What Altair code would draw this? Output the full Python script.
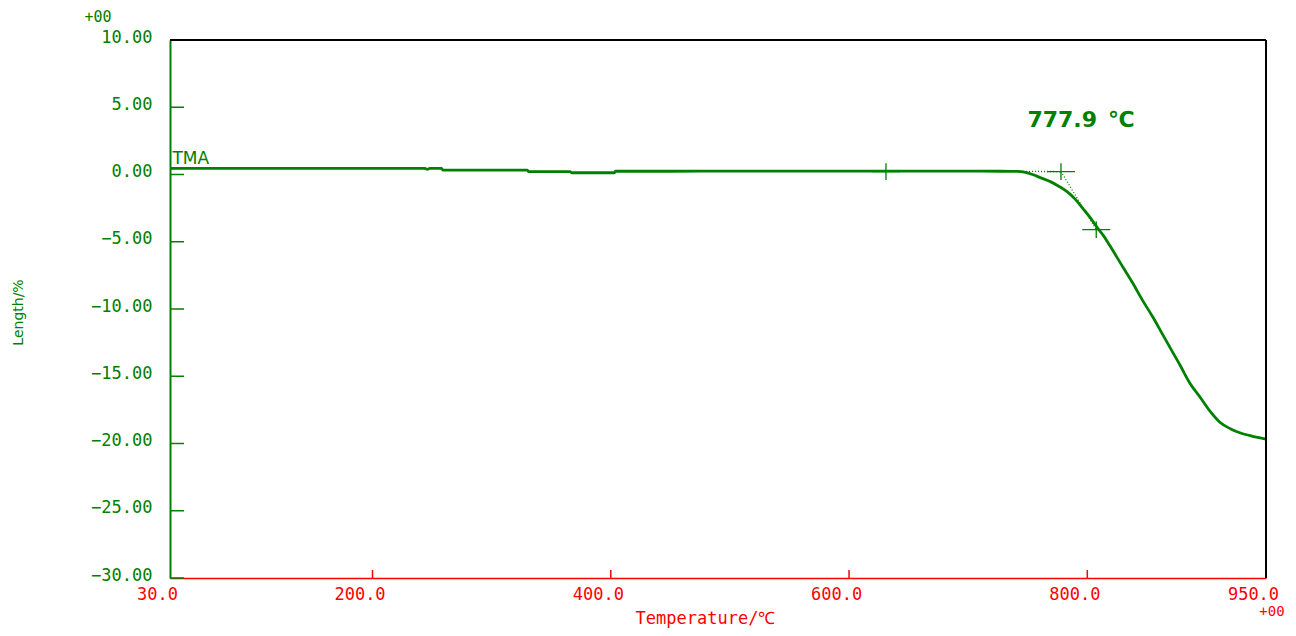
import altair as alt
import pandas as pd

# ---- data ----
temps = [30, 60, 100, 150, 200, 244, 246, 248, 258, 259, 300, 330, 331, 366, 367,
         403, 404, 450, 500, 550, 600, 650, 700, 727, 741, 748, 754, 761, 769, 776, 783,
         790, 796, 802, 808, 814, 819, 830, 838, 846, 855, 862, 869, 878, 886, 895,
         903, 911, 920, 928, 938, 949, 950]
lengths = [0.45, 0.45, 0.45, 0.45, 0.45, 0.45, 0.38, 0.45, 0.45, 0.33, 0.33, 0.33, 0.21, 0.21, 0.13,
           0.13, 0.24, 0.24, 0.25, 0.25, 0.25, 0.25, 0.25, 0.24, 0.23, 0.16, 0.0, -0.25, -0.53, -0.87, -1.28,
           -1.85, -2.5, -3.15, -3.9, -4.6, -5.3, -6.9, -8.05, -9.3, -10.6, -11.7, -12.8, -14.2, -15.5, -16.6,
           -17.6, -18.4, -18.9, -19.2, -19.45, -19.65, -19.67]

y_ticks = [-30, -25, -20, -15, -10, -5, 0, 5, 10]
x_labels = [30, 200, 400, 600, 800, 950]
x_tick_marks = [200, 400, 600, 800]

onset_temp = 777.9
cross_T = [631, 777.9, 807.5]
cross_L = [0.22, 0.22, -4.1]
guide_seg = ["base", "base", "tan", "tan"]
guide_T = [741, 777.9, 777.9, 807.5]
guide_L = [0.23, 0.22, 0.22, -4.1]

GREEN = "#008000"
RED = "#ff0000"
MONO = "DejaVu Sans Mono"
W, H = 1096, 538

df = pd.DataFrame({"T": temps, "L": lengths})
df_cross = pd.DataFrame({"T": cross_T, "L": cross_L})
df_guide = pd.DataFrame({"seg": guide_seg, "T": guide_T, "L": guide_L})
df_yt = pd.DataFrame({"L": y_ticks})
df_xt = pd.DataFrame({"T": x_tick_marks})

x_scale = alt.Scale(domain=[30, 950], nice=False, zero=False)
y_scale = alt.Scale(domain=[-30, 10], nice=False, zero=False)

X_AXIS = alt.Axis(
    values=x_labels, format=".1f", ticks=False, grid=False,
    domainColor=RED, domainWidth=1.5,
    labelColor=RED, labelFont=MONO, labelFontSize=17, labelPadding=8,
    labelOffset=-13, labelFlush=False, labelOverlap=False,
    title="Temperature/℃", titleColor=RED, titleFont=MONO, titleFontSize=17,
    titleFontWeight="normal", titleX=535, titleY=40, titleBaseline="middle",
    titleAlign="center")
Y_AXIS = alt.Axis(
    values=y_ticks, format=".2f", ticks=False, grid=False,
    domainColor=GREEN, domainWidth=2,
    labelColor=GREEN, labelFont=MONO, labelFontSize=17, labelPadding=18,
    labelOffset=-3, labelFlush=False, labelOverlap=False,
    title="Length/%", titleColor=GREEN, titleFont="DejaVu Sans", titleFontSize=14,
    titleFontWeight="normal", titleAngle=270, titleX=-152, titleY=272,
    titleAlign="center", titleBaseline="middle")


def xenc():
    return alt.X("T:Q", scale=x_scale, axis=X_AXIS)


def yenc():
    return alt.Y("L:Q", scale=y_scale, axis=Y_AXIS)


border_top = alt.Chart(pd.DataFrame({"k": [0]})).mark_rule(color="black", strokeWidth=2).encode(
    x=alt.value(0), x2=alt.value(W), y=alt.value(0))
border_right = alt.Chart(pd.DataFrame({"k": [0]})).mark_rule(color="black", strokeWidth=2).encode(
    x=alt.value(W), y=alt.value(0), y2=alt.value(H))

line = alt.Chart(df).mark_line(
    color=GREEN, strokeWidth=2.8, strokeJoin="round", interpolate="monotone"
).encode(x=xenc(), y=yenc())

guides = alt.Chart(df_guide).mark_line(color=GREEN, strokeWidth=1.3, strokeDash=[1, 2]).encode(
    x=xenc(), y=yenc(), detail="seg:N")

crosses = alt.Chart(df_cross).mark_point(
    shape="M-1,0L1,0M0,-0.6L0,0.6", size=784, filled=False, color=GREEN,
    strokeWidth=1.3, opacity=1,
).encode(x=xenc(), y=yenc())

y_tick_rules = alt.Chart(df_yt).mark_rule(color=GREEN, strokeWidth=1.5).encode(
    y=yenc(), x=alt.value(0), x2=alt.value(14))

x_tick_rules = alt.Chart(df_xt).mark_rule(color=RED, strokeWidth=1.5).encode(
    x=xenc(), y=alt.value(H), y2=alt.value(H - 8))

tma = alt.Chart(pd.DataFrame({"T": [32], "L": [0.45], "t": ["TMA"]})).mark_text(
    align="left", baseline="bottom", font="DejaVu Sans", fontSize=17, color=GREEN,
).encode(x=xenc(), y=yenc(), text="t:N")

onset_label = alt.Chart(pd.DataFrame({"T": [794.7], "L": [4.05], "t": [f"{onset_temp}\u2002℃"]})).mark_text(
    align="center", baseline="middle", font="DejaVu Sans", fontSize=22, fontWeight="bold", color=GREEN,
).encode(x=xenc(), y=yenc(), text="t:N")

exp_top = alt.Chart(pd.DataFrame({"t": ["+00"]})).mark_text(
    align="center", baseline="middle", font=MONO, fontSize=15, color=GREEN,
).encode(x=alt.value(-72), y=alt.value(-23), text="t:N")

exp_bottom = alt.Chart(pd.DataFrame({"t": ["+00"]})).mark_text(
    align="center", baseline="middle", font=MONO, fontSize=14, color=RED,
).encode(x=alt.value(W + 6), y=alt.value(H + 34), text="t:N")

chart = alt.layer(
    line, guides, crosses, y_tick_rules, x_tick_rules, border_top, border_right,
    tma, onset_label, exp_top, exp_bottom
).properties(
    width=W, height=H,
    autosize="none",
    padding={"left": 162, "top": 32, "right": 22, "bottom": 50},
).configure_view(stroke=None)

chart.save("out.html", embed_options={"renderer": "svg", "actions": False})
